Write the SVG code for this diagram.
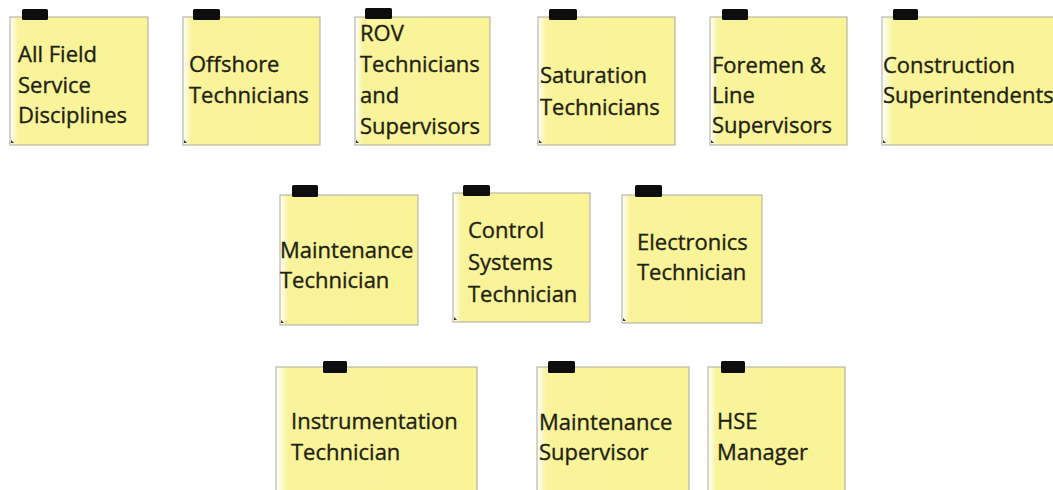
<svg xmlns="http://www.w3.org/2000/svg" width="1053" height="490" viewBox="0 0 1053 490">
<defs>
<linearGradient id="paper" x1="0" y1="0" x2="1" y2="0">
<stop offset="0" stop-color="#ffffff"/>
<stop offset="0.06" stop-color="#f9f49b"/>
<stop offset="1" stop-color="#faf497"/>
</linearGradient>
<style>
.note{fill:url(#paper);stroke:#a9a99c;stroke-width:1}
.tab{fill:#0d0d0d}
.curl{fill:#333}
.t{font-family:"Open Sans","Noto Sans",sans-serif;font-size:22px;fill:#1f1f12;stroke:#1f1f12;stroke-width:0.35}
</style>
</defs>
<rect width="1053" height="490" fill="#ffffff"/>

<g id="n1">
<rect class="note" x="10" y="17" width="138" height="128"/>
<rect class="tab" x="22" y="9" width="26" height="11" rx="1.5"/>
<path class="curl" d="M11 140 l3 3 h-3z"/>
<text class="t" x="18" y="62">All Field</text>
<text class="t" x="18" y="93">Service</text>
<text class="t" x="18" y="123">Disciplines</text>
</g>

<g id="n2">
<rect class="note" x="183" y="17" width="137" height="128"/>
<rect class="tab" x="193" y="9" width="27" height="11" rx="1.5"/>
<path class="curl" d="M184 140 l3 3 h-3z"/>
<text class="t" x="189" y="72">Offshore</text>
<text class="t" x="189" y="103">Technicians</text>
</g>

<g id="n3">
<rect class="note" x="355" y="17" width="135" height="128"/>
<rect class="tab" x="365" y="8" width="27" height="11" rx="1.5"/>
<path class="curl" d="M356 140 l3 3 h-3z"/>
<text class="t" x="360" y="41">ROV</text>
<text class="t" x="360" y="72">Technicians</text>
<text class="t" x="360" y="103">and</text>
<text class="t" x="360" y="134">Supervisors</text>
</g>

<g id="n4">
<rect class="note" x="538" y="17" width="137" height="128"/>
<rect class="tab" x="549" y="9" width="28" height="11" rx="1.5"/>
<path class="curl" d="M539 140 l3 3 h-3z"/>
<text class="t" x="540" y="83">Saturation</text>
<text class="t" x="540" y="115">Technicians</text>
</g>

<g id="n5">
<rect class="note" x="710" y="17" width="137" height="128"/>
<rect class="tab" x="722" y="9" width="26" height="11" rx="1.5"/>
<path class="curl" d="M711 140 l3 3 h-3z"/>
<text class="t" x="712" y="73">Foremen &amp;</text>
<text class="t" x="712" y="103">Line</text>
<text class="t" x="712" y="133">Supervisors</text>
</g>

<g id="n6">
<rect class="note" x="882" y="17" width="180" height="128"/>
<rect class="tab" x="893" y="9" width="25" height="11" rx="1.5"/>
<path class="curl" d="M883 140 l3 3 h-3z"/>
<text class="t" x="883" y="73">Construction</text>
<text class="t" x="883" y="103">Superintendents</text>
</g>

<g id="n7">
<rect class="note" x="280" y="195" width="138" height="130"/>
<rect class="tab" x="292" y="185" width="26" height="12" rx="1.5"/>
<path class="curl" d="M281 320 l3 3 h-3z"/>
<text class="t" x="280" y="258">Maintenance</text>
<text class="t" x="280" y="288">Technician</text>
</g>

<g id="n8">
<rect class="note" x="453" y="193" width="137" height="129"/>
<rect class="tab" x="463" y="185" width="27" height="11" rx="1.5"/>
<path class="curl" d="M454 317 l3 3 h-3z"/>
<text class="t" x="468" y="238">Control</text>
<text class="t" x="468" y="270">Systems</text>
<text class="t" x="468" y="302">Technician</text>
</g>

<g id="n9">
<rect class="note" x="622" y="195" width="140" height="128"/>
<rect class="tab" x="635" y="185" width="27" height="12" rx="1.5"/>
<path class="curl" d="M623 318 l3 3 h-3z"/>
<text class="t" x="637" y="250">Electronics</text>
<text class="t" x="637" y="280">Technician</text>
</g>

<g id="n10">
<rect class="note" x="276" y="367" width="201" height="130"/>
<rect class="tab" x="323" y="361" width="24" height="12" rx="1.5"/>
<text class="t" x="291" y="429">Instrumentation</text>
<text class="t" x="291" y="460">Technician</text>
</g>

<g id="n11">
<rect class="note" x="537" y="367" width="152" height="130"/>
<rect class="tab" x="548" y="361" width="27" height="12" rx="1.5"/>
<text class="t" x="539" y="430">Maintenance</text>
<text class="t" x="539" y="460">Supervisor</text>
</g>

<g id="n12">
<rect class="note" x="708" y="367" width="137" height="130"/>
<rect class="tab" x="721" y="361" width="24" height="12" rx="1.5"/>
<text class="t" x="717" y="429">HSE</text>
<text class="t" x="717" y="460">Manager</text>
</g>

<g id="connectors"></g>
</svg>
